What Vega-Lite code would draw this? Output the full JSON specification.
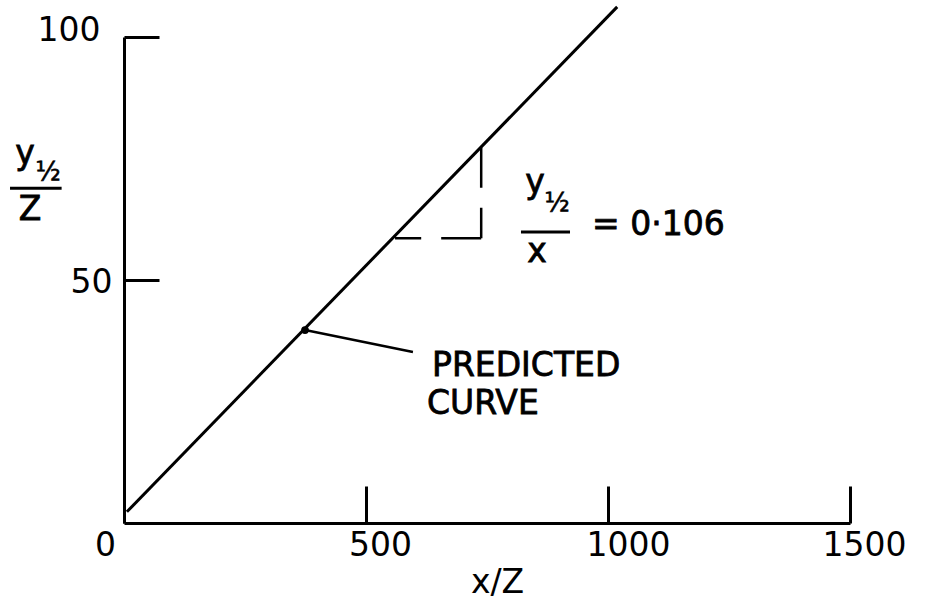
{
  "$schema": "https://vega.github.io/schema/vega-lite/v6.json",
  "autosize": "none",
  "width": 726,
  "height": 486,
  "padding": {"left": 124, "top": 37, "right": 77, "bottom": 87},
  "background": "white",
  "config": {
    "view": {"stroke": null},
    "font": "DejaVu Sans",
    "axis": {
      "grid": false,
      "domainColor": "black",
      "domainWidth": 3,
      "tickColor": "black",
      "tickWidth": 3,
      "labelColor": "black",
      "labelFont": "DejaVu Sans",
      "labelFontSize": 33,
      "titleColor": "black",
      "titleFont": "DejaVu Sans",
      "titleFontSize": 33,
      "titleFontWeight": "normal"
    }
  },
  "datasets": {
    "curve": [{"x": 6, "y": 2.3}, {"x": 1019, "y": 106.2}],
    "predicted": [{"x": 374, "y": 39.7}],
    "leader": [{"x": 374, "y": 39.7, "x2": 597, "y2": 35.2}],
    "slope": [
      {"x": 738, "y": 77.2, "x2": 738, "y2": 58.6},
      {"x": 738, "y": 58.6, "x2": 560, "y2": 58.6}
    ],
    "bars": [
      {"x": -235.5, "x2": -128.9, "y": 68.9},
      {"x": 820.2, "x2": 921.5, "y": 59.9}
    ],
    "centred": [
      {"x": -204.5, "y": 75.9, "text": "y"},
      {"x": -194, "y": 64.4, "text": "Z"},
      {"x": 849, "y": 69.9, "text": "y"},
      {"x": 853.3, "y": 55.7, "text": "x"}
    ],
    "halves": [
      {"x": -157, "y": 72.2, "text": "½"},
      {"x": 894.6, "y": 65.8, "text": "½"}
    ],
    "notes": [
      {"x": 967, "y": 61.3, "text": "= 0·106"},
      {"x": 636.4, "y": 32.3, "text": "PREDICTED"},
      {"x": 626, "y": 24.5, "text": "CURVE"}
    ]
  },
  "layer": [
    {
      "data": {"name": "curve"},
      "mark": {"type": "line", "color": "black", "strokeWidth": 3, "clip": false},
      "encoding": {
        "x": {
          "field": "x", "type": "quantitative",
          "scale": {"domain": [0, 1500], "nice": false, "zero": false},
          "axis": {
            "values": [0, 500, 1000, 1500],
            "format": "d",
            "tickSize": -37,
            "labelBaseline": "middle",
            "labelPadding": 59,
            "labelOffset": {
              "condition": [
                {"test": "datum.value == 0", "value": -19},
                {"test": "datum.value == 1000", "value": 20}
              ],
              "value": 14
            },
            "labelAngle": 0,
            "labelFlush": false,
            "labelOverlap": false,
            "title": "x/Z",
            "titleX": 373,
            "titleY": 59,
            "titleBaseline": "middle",
            "titleAlign": "center",
            "encode": {
              "labels": {
                "update": {
                  "stroke": {"value": "black"},
                  "strokeWidth": {"value": 0.8}
                }
              },
              "title": {
                "update": {
                  "stroke": {"value": "black"},
                  "strokeWidth": {"value": 0.8}
                }
              }
            }
          }
        },
        "y": {
          "field": "y", "type": "quantitative",
          "scale": {"domain": [0, 100], "nice": false, "zero": false},
          "axis": {
            "values": [50, 100],
            "tickSize": -35,
            "labelAlign": "right",
            "labelBaseline": "middle",
            "labelPadding": {
              "condition": {"test": "datum.value == 100", "value": 59},
              "value": 47
            },
            "labelOffset": {
              "condition": {"test": "datum.value == 100", "value": -7},
              "value": 2
            },
            "labelFlush": false,
            "labelOverlap": false,
            "title": null,
            "encode": {
              "labels": {
                "update": {
                  "stroke": {"value": "black"},
                  "strokeWidth": {"value": 0.8}
                }
              }
            }
          }
        }
      }
    },
    {
      "data": {"name": "predicted"},
      "mark": {"type": "point", "filled": true, "color": "black", "size": 60, "opacity": 1},
      "encoding": {
        "x": {"field": "x", "type": "quantitative"},
        "y": {"field": "y", "type": "quantitative"}
      }
    },
    {
      "data": {"name": "leader"},
      "mark": {"type": "rule", "color": "black", "strokeWidth": 2.5},
      "encoding": {
        "x": {"field": "x", "type": "quantitative"},
        "y": {"field": "y", "type": "quantitative"},
        "x2": {"field": "x2"},
        "y2": {"field": "y2"}
      }
    },
    {
      "data": {"name": "slope"},
      "mark": {"type": "rule", "color": "black", "strokeWidth": 2.5, "strokeDash": [40, 20]},
      "encoding": {
        "x": {"field": "x", "type": "quantitative"},
        "y": {"field": "y", "type": "quantitative"},
        "x2": {"field": "x2"},
        "y2": {"field": "y2"}
      }
    },
    {
      "data": {"name": "bars"},
      "mark": {"type": "rule", "color": "black", "strokeWidth": 3, "clip": false},
      "encoding": {
        "x": {"field": "x", "type": "quantitative"},
        "x2": {"field": "x2"},
        "y": {"field": "y", "type": "quantitative"}
      }
    },
    {
      "data": {"name": "centred"},
      "mark": {"type": "text", "align": "center", "baseline": "middle", "fontSize": 33, "color": "black", "stroke": "black", "strokeWidth": 0.8, "clip": false},
      "encoding": {
        "x": {"field": "x", "type": "quantitative"},
        "y": {"field": "y", "type": "quantitative"},
        "text": {"field": "text"}
      }
    },
    {
      "data": {"name": "halves"},
      "mark": {"type": "text", "align": "center", "baseline": "middle", "fontSize": 26, "color": "black", "stroke": "black", "strokeWidth": 0.6, "clip": false},
      "encoding": {
        "x": {"field": "x", "type": "quantitative"},
        "y": {"field": "y", "type": "quantitative"},
        "text": {"field": "text"}
      }
    },
    {
      "data": {"name": "notes"},
      "mark": {"type": "text", "align": "left", "baseline": "middle", "fontSize": 33, "color": "black", "stroke": "black", "strokeWidth": 0.8, "clip": false},
      "encoding": {
        "x": {"field": "x", "type": "quantitative"},
        "y": {"field": "y", "type": "quantitative"},
        "text": {"field": "text"}
      }
    }
  ]
}
